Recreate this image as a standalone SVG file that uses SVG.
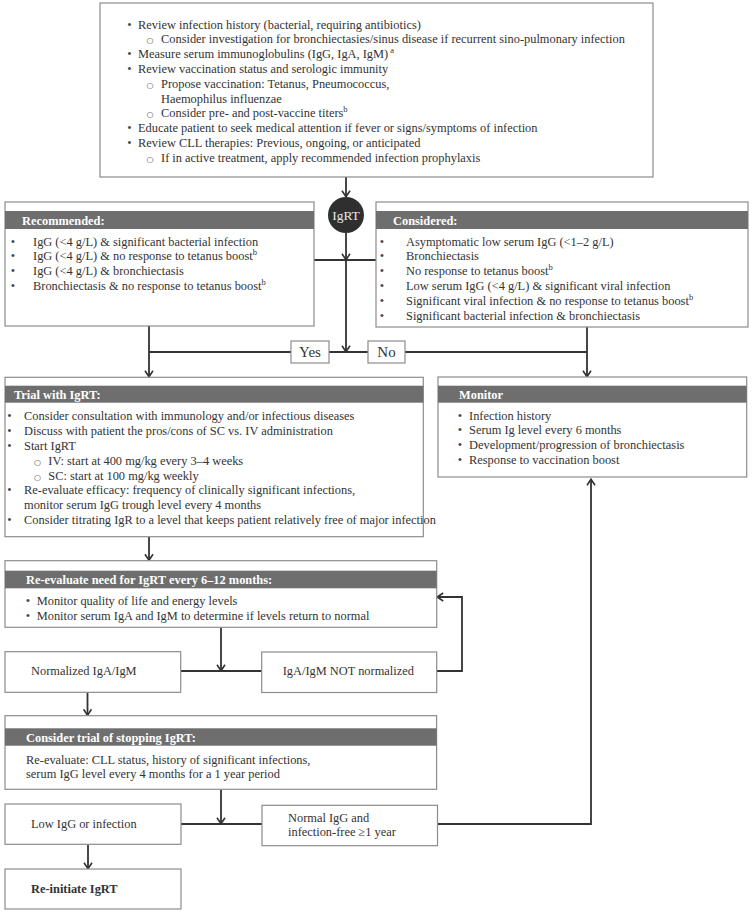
<svg xmlns="http://www.w3.org/2000/svg" width="752" height="913" viewBox="0 0 752 913">
<style>
.box{fill:#fff;stroke:#8c8c8c;stroke-width:1.2}
.hdr{fill:#6e6e6e}
.t{font-family:"Liberation Serif","Times New Roman",serif;font-size:12.4px;fill:#333}
.h{font-family:"Liberation Serif","Times New Roman",serif;font-size:12.4px;font-weight:bold;fill:#fff}
.b{font-family:"Liberation Serif","Times New Roman",serif;font-size:12.4px;fill:#444;text-anchor:middle}
.sb{font-family:"DejaVu Sans",sans-serif;font-size:8px;fill:#444;text-anchor:middle}
.sup{font-family:"Liberation Serif","Times New Roman",serif;font-size:8.5px;fill:#333}
.c{fill:none;stroke:#333;stroke-width:1.8}
.yn{font-family:"Liberation Serif","Times New Roman",serif;font-size:15px;fill:#333;text-anchor:middle}
</style>
<defs>
<marker id="arr" viewBox="0 0 10 10" refX="9.2" refY="5" markerWidth="10" markerHeight="10" markerUnits="userSpaceOnUse" orient="auto">
<path d="M3,1 L9,5 L3,9" fill="none" stroke="#333" stroke-width="1.6"/>
</marker>
</defs>

<g id="connectors">
<path class="c" d="M346,177 V197" marker-end="url(#arr)"/>
<path class="c" d="M346,233 V260" marker-end="url(#arr)"/>
<path class="c" d="M346,260 V352" marker-end="url(#arr)"/>
<path class="c" d="M314,260 H376"/>
<path class="c" d="M149,326 V377" marker-end="url(#arr)"/>
<path class="c" d="M149,352 H291 M329,352 H368 M405,352 H587"/>
<path class="c" d="M587,327 V377" marker-end="url(#arr)"/>
<path class="c" d="M149,537 V560.5" marker-end="url(#arr)"/>
<path class="c" d="M221,627.5 V671" marker-end="url(#arr)"/>
<path class="c" d="M181,671 H262"/>
<path class="c" d="M437,671 H462 V597 H437" marker-end="url(#arr)"/>
<path class="c" d="M87.5,692.5 V715.5" marker-end="url(#arr)"/>
<path class="c" d="M221,789.5 V824" marker-end="url(#arr)"/>
<path class="c" d="M181,824 H262"/>
<path class="c" d="M437.5,824 H591 V479" marker-end="url(#arr)"/>
<path class="c" d="M88,844.5 V869" marker-end="url(#arr)"/>
</g>

<g id="assess">
<rect class="box" x="100" y="3" width="553" height="174"/>
<text class="b" x="129.5" y="28.5">•</text>
<text class="t" x="138" y="28.5">Review infection history (bacterial, requiring antibiotics)</text>
<text class="sb" x="150" y="43.3">○</text>
<text class="t" x="161" y="43.3">Consider investigation for bronchiectasies/sinus disease if recurrent sino-pulmonary infection</text>
<text class="b" x="129.5" y="58.1">•</text>
<text class="t" x="138" y="58.1">Measure serum immunoglobulins (IgG, IgA, IgM)<tspan class="sup" dx="2" dy="-5">a</tspan></text>
<text class="b" x="129.5" y="72.9">•</text>
<text class="t" x="138" y="72.9">Review vaccination status and serologic immunity</text>
<text class="sb" x="150" y="87.7">○</text>
<text class="t" x="161" y="87.7">Propose vaccination: Tetanus, Pneumococcus,</text>
<text class="t" x="161" y="102.5">Haemophilus influenzae</text>
<text class="sb" x="150" y="117.3">○</text>
<text class="t" x="161" y="117.3">Consider pre- and post-vaccine titers<tspan class="sup" dy="-5">b</tspan></text>
<text class="b" x="129.5" y="132.1">•</text>
<text class="t" x="138" y="132.1">Educate patient to seek medical attention if fever or signs/symptoms of infection</text>
<text class="b" x="129.5" y="146.9">•</text>
<text class="t" x="138" y="146.9">Review CLL therapies: Previous, ongoing, or anticipated</text>
<text class="sb" x="150" y="161.7">○</text>
<text class="t" x="161" y="161.7">If in active treatment, apply recommended infection prophylaxis</text>
</g>

<g id="igrt">
<circle cx="346" cy="215" r="18" fill="#2f2f2f"/>
<text x="346" y="219.5" font-family="Liberation Serif, serif" font-size="13.5" fill="#e6e6e6" text-anchor="middle">IgRT</text>
</g>

<g id="recommended">
<rect class="box" x="5" y="202" width="309" height="124"/>
<rect class="hdr" x="5" y="211" width="309" height="18"/>
<text class="h" x="22" y="224.5">Recommended:</text>
<text class="b" x="13" y="245.5">•</text>
<text class="t" x="33" y="245.5">IgG (&lt;4 g/L) &amp; significant bacterial infection</text>
<text class="b" x="13" y="260.3">•</text>
<text class="t" x="33" y="260.3">IgG (&lt;4 g/L) &amp; no response to tetanus boost<tspan class="sup" dy="-5">b</tspan></text>
<text class="b" x="13" y="275.1">•</text>
<text class="t" x="33" y="275.1">IgG (&lt;4 g/L) &amp; bronchiectasis</text>
<text class="b" x="13" y="289.9">•</text>
<text class="t" x="33" y="289.9">Bronchiectasis &amp; no response to tetanus boost<tspan class="sup" dy="-5">b</tspan></text>
</g>

<g id="considered">
<rect class="box" x="376" y="202" width="372" height="125"/>
<rect class="hdr" x="376" y="211" width="372" height="18"/>
<text class="h" x="393" y="224.5">Considered:</text>
<text class="b" x="382" y="245.5">•</text>
<text class="t" x="406" y="245.5">Asymptomatic low serum IgG (&lt;1–2 g/L)</text>
<text class="b" x="382" y="260.3">•</text>
<text class="t" x="406" y="260.3">Bronchiectasis</text>
<text class="b" x="382" y="275.1">•</text>
<text class="t" x="406" y="275.1">No response to tetanus boost<tspan class="sup" dy="-5">b</tspan></text>
<text class="b" x="382" y="289.9">•</text>
<text class="t" x="406" y="289.9">Low serum IgG (&lt;4 g/L) &amp; significant viral infection</text>
<text class="b" x="382" y="304.7">•</text>
<text class="t" x="406" y="304.7">Significant viral infection &amp; no response to tetanus boost<tspan class="sup" dy="-5">b</tspan></text>
<text class="b" x="382" y="319.5">•</text>
<text class="t" x="406" y="319.5">Significant bacterial infection &amp; bronchiectasis</text>
</g>

<g id="yes">
<rect class="box" x="291" y="341" width="38" height="22"/>
<text class="yn" x="310" y="357">Yes</text>
</g>
<g id="no">
<rect class="box" x="368" y="341" width="37" height="22"/>
<text class="yn" x="386.5" y="357">No</text>
</g>

<g id="trial">
<rect class="box" x="5" y="377.3" width="418.3" height="159.4"/>
<rect class="hdr" x="5" y="385.7" width="418.3" height="17"/>
<text class="h" x="14" y="398.5">Trial with IgRT:</text>
<text class="b" x="9.5" y="420.3">•</text>
<text class="t" x="24" y="420.3">Consider consultation with immunology and/or infectious diseases</text>
<text class="b" x="9.5" y="435.1">•</text>
<text class="t" x="24" y="435.1">Discuss with patient the pros/cons of SC vs. IV administration</text>
<text class="b" x="9.5" y="449.9">•</text>
<text class="t" x="24" y="449.9">Start IgRT</text>
<text class="sb" x="37.5" y="464.7">○</text>
<text class="t" x="48.3" y="464.7">IV: start at 400 mg/kg every 3–4 weeks</text>
<text class="sb" x="37.5" y="479.5">○</text>
<text class="t" x="48.3" y="479.5">SC: start at 100 mg/kg weekly</text>
<text class="b" x="9.5" y="494.3">•</text>
<text class="t" x="24" y="494.3">Re-evaluate efficacy: frequency of clinically significant infections,</text>
<text class="t" x="24" y="509.1">monitor serum IgG trough level every 4 months</text>
<text class="b" x="9.5" y="523.9">•</text>
<text class="t" x="24" y="523.9">Consider titrating IgR to a level that keeps patient relatively free of major infection</text>
</g>

<g id="monitor">
<rect class="box" x="438" y="377" width="308.7" height="100"/>
<rect class="hdr" x="438" y="385.7" width="308.7" height="17"/>
<text class="h" x="459" y="398.5">Monitor</text>
<text class="b" x="460" y="419.5">•</text>
<text class="t" x="469" y="419.5">Infection history</text>
<text class="b" x="460" y="434.3">•</text>
<text class="t" x="469" y="434.3">Serum Ig level every 6 months</text>
<text class="b" x="460" y="449.1">•</text>
<text class="t" x="469" y="449.1">Development/progression of bronchiectasis</text>
<text class="b" x="460" y="463.9">•</text>
<text class="t" x="469" y="463.9">Response to vaccination boost</text>
</g>

<g id="reevaluate">
<rect class="box" x="5" y="560.7" width="431.7" height="66.6"/>
<rect class="hdr" x="5" y="570.7" width="431.7" height="17.6"/>
<text class="h" x="26" y="584">Re-evaluate need for IgRT every 6–12 months:</text>
<text class="b" x="28" y="605">•</text>
<text class="t" x="36.7" y="605">Monitor quality of life and energy levels</text>
<text class="b" x="28" y="619.5">•</text>
<text class="t" x="36.7" y="619.5">Monitor serum IgA and IgM to determine if levels return to normal</text>
</g>

<g id="normalized">
<rect class="box" x="5" y="651.7" width="175.7" height="40.6"/>
<text class="t" x="31" y="675.3">Normalized IgA/IgM</text>
</g>

<g id="not-normalized">
<rect class="box" x="261.7" y="652" width="175" height="40.5"/>
<text class="t" x="282.7" y="675.3">IgA/IgM NOT normalized</text>
</g>

<g id="stop-trial">
<rect class="box" x="5" y="715.7" width="431.6" height="73.6"/>
<rect class="hdr" x="5" y="728.3" width="431.6" height="17.4"/>
<text class="h" x="26" y="741.5">Consider trial of stopping IgRT:</text>
<text class="t" x="26" y="763.5">Re-evaluate: CLL status, history of significant infections,</text>
<text class="t" x="26" y="777.5">serum IgG level every 4 months for a 1 year period</text>
</g>

<g id="low-igg">
<rect class="box" x="5" y="804" width="176" height="40.3"/>
<text class="t" x="31" y="827.5">Low IgG or infection</text>
</g>

<g id="normal-igg">
<rect class="box" x="262" y="805.3" width="175.5" height="40.4"/>
<text class="t" x="288" y="821.5">Normal IgG and</text>
<text class="t" x="288" y="836">infection-free ≥1 year</text>
</g>

<g id="reinitiate">
<rect class="box" x="5" y="869" width="176" height="40"/>
<text class="t" x="31" y="892.5" font-weight="bold">Re-initiate IgRT</text>
</g>
</svg>
